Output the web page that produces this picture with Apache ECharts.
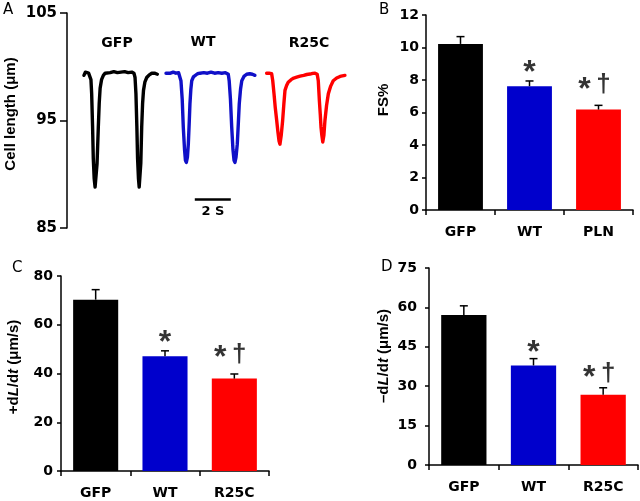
<!DOCTYPE html>
<html><head><meta charset="utf-8">
<script src="https://cdn.jsdelivr.net/npm/echarts@6/dist/echarts.min.js"></script>
<style>html,body{margin:0;padding:0;background:#fff}#c{width:640px;height:501px}</style>
</head><body><div id="c"></div>
<script>
// ---- Panel A: cell length traces [time (s), length (µm)] ----
const gfpTrace = [[0.94,99.2],[1.02,99.5],[1.1,99.45],[1.2,99.4],[1.28,99.3],[1.33,98.8],[1.37,97.5],[1.42,94.5],[1.46,91.5],[1.51,89.6],[1.56,88.8],[1.61,88.9],[1.67,91.0],[1.74,94.4],[1.79,96.6],[1.84,98.0],[1.92,98.8],[2.02,99.2],[2.12,99.4],[2.21,99.5],[2.4,99.45],[2.6,99.55],[2.8,99.45],[3.0,99.5],[3.2,99.55],[3.4,99.45],[3.6,99.5],[3.72,99.4],[3.78,99.0],[3.83,97.5],[3.88,94.5],[3.92,91.5],[3.97,89.6],[4.01,88.8],[4.06,88.9],[4.1,91.0],[4.15,94.4],[4.2,96.6],[4.25,97.8],[4.33,98.6],[4.43,99.0],[4.57,99.25],[4.71,99.4],[4.86,99.4],[5.02,99.3]];
const wtTrace = [[5.5,99.4],[5.6,99.45],[5.75,99.4],[5.9,99.5],[6.05,99.4],[6.2,99.45],[6.28,99.3],[6.33,98.7],[6.4,97.0],[6.46,94.4],[6.53,92.3],[6.58,91.3],[6.63,91.1],[6.69,91.6],[6.74,92.8],[6.79,94.8],[6.83,96.55],[6.88,97.9],[6.93,98.7],[7.02,99.05],[7.11,99.2],[7.25,99.35],[7.39,99.4],[7.6,99.45],[7.8,99.4],[8.0,99.5],[8.2,99.4],[8.4,99.45],[8.6,99.4],[8.8,99.45],[8.96,99.3],[9.01,98.7],[9.08,97.0],[9.15,94.4],[9.22,92.3],[9.28,91.3],[9.33,91.1],[9.39,91.6],[9.46,92.8],[9.52,94.8],[9.57,96.55],[9.64,97.9],[9.71,98.7],[9.83,99.1],[9.98,99.3],[10.15,99.35],[10.3,99.3],[10.44,99.2]];
const r25cTrace = [[11.09,99.4],[11.15,99.5],[11.22,99.4],[11.3,99.45],[11.37,99.35],[11.43,98.7],[11.5,97.5],[11.57,96.2],[11.65,95.0],[11.72,93.9],[11.78,93.1],[11.83,92.8],[11.9,93.6],[11.98,95.0],[12.05,96.6],[12.11,97.8],[12.2,98.25],[12.29,98.56],[12.45,98.8],[12.6,98.95],[12.76,99.03],[12.95,99.12],[13.15,99.2],[13.32,99.28],[13.5,99.32],[13.65,99.38],[13.78,99.4],[13.9,99.3],[13.96,98.7],[14.02,96.86],[14.07,95.6],[14.11,94.4],[14.16,93.6],[14.21,93.0],[14.27,93.6],[14.33,95.0],[14.42,96.4],[14.52,97.5],[14.65,98.2],[14.79,98.7],[14.98,98.95],[15.17,99.1],[15.3,99.15],[15.44,99.2]];
const scaleBar = [[7.1,87.65],[9.1,87.65]];
const traceNames = ['GFP','WT','R25C'];
const traceLabelPos = [[117,43],[203,42],[309,43]];
const yTicksA = [85,95,105];

// ---- Panels B, C, D ----
const catsB = ['GFP','WT','PLN'];
const catsCD = ['GFP','WT','R25C'];
const fsMean = [10.22, 7.62, 6.18];
const fsErr  = [0.45, 0.32, 0.26];
const plusMean = [70.3, 47.1, 37.9];
const plusErr  = [4.1, 2.2, 1.9];
const minusMean = [57.1, 37.9, 26.7];
const minusErr  = [3.5, 2.6, 2.7];
// significance marks: [category index, value at mark centre]
const starsB = [[1, 8.92],[2, 7.88]];
const daggersB = [[2, 7.82]];
const starsC = [[1, 55.7],[2, 49.5]];
const daggersC = [[2, 48.3]];
const starsD = [[1, 45.8],[2, 36.2]];
const daggersD = [[2, 35.6]];

const barColors = ['#000000','#0000CC','#FF0000'];
const traceColors = ['#000000','#1010C8','#FF0000'];

const FONT = 'DejaVu Sans';
const tickFont = {fontFamily: FONT, fontWeight: 'bold', fontSize: 14, color: '#000'};
const lineS = {color: '#000', width: 1.5};

function yAx(gi, min, max, interval, margin, tickLen) {
  return {gridIndex: gi, type: 'value', min, max, interval,
    axisLine: {show: true, lineStyle: lineS},
    axisTick: {show: true, length: tickLen || 4, lineStyle: lineS},
    axisLabel: Object.assign({margin}, tickFont),
    splitLine: {show: false}};
}
function xCat(gi, cats) {
  return {gridIndex: gi, type: 'category', data: cats, boundaryGap: true,
    axisLine: {show: true, onZero: false, lineStyle: lineS},
    axisTick: {show: true, length: 5, alignWithLabel: false, lineStyle: lineS},
    axisLabel: Object.assign({margin: 15}, tickFont),
    splitLine: {show: false}};
}
function barSeries(gi, means) {
  return {type: 'bar', xAxisIndex: gi, yAxisIndex: gi, barWidth: '65%',
    data: means.map((v, i) => ({value: v, itemStyle: {color: barColors[i]}})), z: 2};
}
function errSeries(gi, means, errs) {
  return {type: 'custom', xAxisIndex: gi, yAxisIndex: gi, z: 3,
    data: means.map((v, i) => [i, v, errs[i]]),
    renderItem: function (params, api) {
      const i = api.value(0), v = api.value(1), e = api.value(2);
      const p0 = api.coord([i, v]);
      const p1 = api.coord([i, v + e]);
      const st = {stroke: '#000', lineWidth: 1.5};
      return {type: 'group', children: [
        {type: 'line', shape: {x1: p0[0], y1: p0[1], x2: p1[0], y2: p1[1]}, style: st},
        {type: 'line', shape: {x1: p1[0] - 4, y1: p1[1], x2: p1[0] + 4, y2: p1[1]}, style: st}
      ]};
    }};
}
function markSeries(gi, pts, text, paired, isDagger) {
  return {type: 'scatter', xAxisIndex: gi, yAxisIndex: gi, symbolSize: 0, z: 4,
    data: pts.map(p => {
      const hasPair = paired.some(q => q[0] === p[0]);
      let dx = 0;
      if (isDagger) dx = 5; else if (hasPair) dx = -14;
      return {value: p, label: {offset: [dx, isDagger ? 2 : 8]}};
    }),
    label: {show: true, position: 'inside', formatter: text, color: '#000',
      fontFamily: 'Liberation Sans',
      fontWeight: 'bold', fontSize: isDagger ? 26 : 32}};
}

const option = {
  animation: false,
  backgroundColor: '#fff',
  grid: [
    {left: 67, top: 13, width: 288, height: 215},
    {left: 426, top: 15, width: 207, height: 195},
    {left: 61, top: 276, width: 208, height: 195},
    {left: 429, top: 268, width: 209, height: 197}
  ],
  xAxis: [
    {gridIndex: 0, type: 'value', min: 0, max: 16, show: false},
    xCat(1, catsB), xCat(2, catsCD), xCat(3, catsCD)
  ],
  yAxis: [
    Object.assign(yAx(0, yTicksA[0], yTicksA[2], yTicksA[1] - yTicksA[0], 10, 7),
      {axisLabel: Object.assign({margin: 10}, tickFont, {fontSize: 15})}),
    yAx(1, 0, 12, 2, 7),
    yAx(2, 0, 80, 20, 8),
    yAx(3, 0, 75, 15, 12)
  ],
  series: [
    ...[gfpTrace, wtTrace, r25cTrace].map((d, i) => ({
      type: 'line', name: traceNames[i], xAxisIndex: 0, yAxisIndex: 0, data: d,
      showSymbol: false, symbol: 'none', lineStyle: {color: traceColors[i], width: 3.4, join: 'round', cap: 'round'}
    })),
    {type: 'line', xAxisIndex: 0, yAxisIndex: 0, data: scaleBar, symbol: 'none',
      lineStyle: {color: '#000', width: 2.5}},
    barSeries(1, fsMean), errSeries(1, fsMean, fsErr),
    markSeries(1, starsB, '*', daggersB, false), markSeries(1, daggersB, '†', daggersB, true),
    barSeries(2, plusMean), errSeries(2, plusMean, plusErr),
    markSeries(2, starsC, '*', daggersC, false), markSeries(2, daggersC, '†', daggersC, true),
    barSeries(3, minusMean), errSeries(3, minusMean, minusErr),
    markSeries(3, starsD, '*', daggersD, false), markSeries(3, daggersD, '†', daggersD, true)
  ],
  graphic: [
    ...['A','B','C','D'].map((t, i) => ({type: 'text', left: [3, 379, 12, 381][i], top: [3, 3, 261, 260][i],
      style: {text: t, font: '15px "DejaVu Sans"', fill: '#000'}})),
    ...traceNames.map((t, i) => ({type: 'text', x: traceLabelPos[i][0], y: traceLabelPos[i][1],
      style: {text: t, font: 'bold 14px "DejaVu Sans"', fill: '#000', align: 'center', verticalAlign: 'middle'}})),
    {type: 'text', x: 213, y: 212, style: {text: '2 S', font: 'bold 13px "DejaVu Sans"', fill: '#000', align: 'center', verticalAlign: 'middle'}},
    {type: 'text', x: 11, y: 114, rotation: Math.PI / 2,
      style: {text: 'Cell length (μm)', font: 'bold 15px "Liberation Sans"', fill: '#000', align: 'center', verticalAlign: 'middle'}},
    {type: 'text', x: 384, y: 100, rotation: Math.PI / 2,
      style: {text: 'FS%', font: 'bold 15px "Liberation Sans"', fill: '#000', align: 'center', verticalAlign: 'middle'}},
    {type: 'text', x: 14, y: 367, rotation: Math.PI / 2,
      style: {text: '+d{i|L}/d{i|t} (μm/s)', font: 'bold 15px "Liberation Sans"', fill: '#000', align: 'center', verticalAlign: 'middle',
        rich: {i: {font: 'italic bold 15px "Liberation Sans"', fill: '#000'}}}},
    {type: 'text', x: 384, y: 356, rotation: Math.PI / 2,
      style: {text: '–d{i|L}/d{i|t} (μm/s)', font: 'bold 15px "Liberation Sans"', fill: '#000', align: 'center', verticalAlign: 'middle',
        rich: {i: {font: 'italic bold 15px "Liberation Sans"', fill: '#000'}}}}
  ]
};
const chart = echarts.init(document.getElementById('c'), null, {renderer: 'canvas'});
chart.setOption(option);
</script></body></html>
